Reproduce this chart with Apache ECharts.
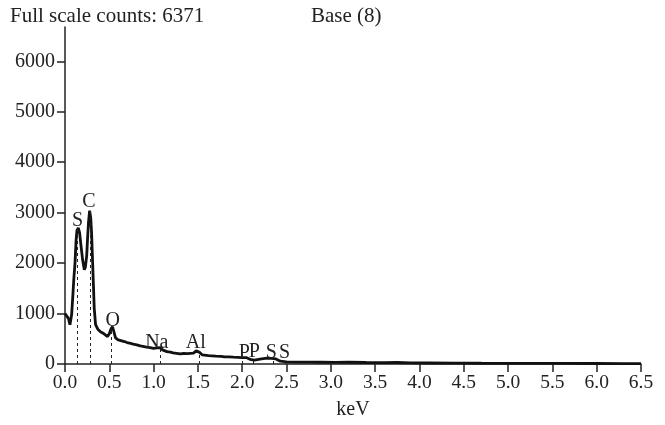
<!DOCTYPE html>
<html>
<head>
<meta charset="utf-8">
<script src="https://cdn.jsdelivr.net/npm/echarts@6/dist/echarts.min.js"></script>
<style>
  html, body { margin: 0; padding: 0; background: #fff; }
  #chart { width: 665px; height: 425px; }
</style>
</head>
<body>
<div id="chart"></div>
<script>
// spectrum (keV, counts)
const energies = [0.00, 0.02, 0.04, 0.056, 0.075, 0.09, 0.10, 0.113, 0.125, 0.135, 0.15, 0.165, 0.18, 0.20, 0.218, 0.23, 0.245, 0.255, 0.265, 0.278, 0.29, 0.30, 0.31, 0.32, 0.33, 0.345, 0.37, 0.40, 0.43, 0.45, 0.48, 0.50, 0.52, 0.535, 0.55, 0.57, 0.60, 0.64, 0.67, 0.70, 0.74, 0.77, 0.81, 0.85, 0.88, 0.92, 0.96, 1.00, 1.04, 1.07, 1.10, 1.15, 1.19, 1.22, 1.26, 1.30, 1.34, 1.38, 1.45, 1.48, 1.50, 1.52, 1.55, 1.62, 1.70, 1.76, 1.80, 1.85, 1.90, 1.95, 2.00, 2.05, 2.10, 2.14, 2.20, 2.28, 2.33, 2.38, 2.43, 2.50, 2.60, 2.75, 2.90, 3.05, 3.2, 3.4, 3.6, 3.75, 3.9, 4.1, 4.4, 4.7, 5.0, 5.3, 5.6, 6.0, 6.3, 6.5];
const counts = [1000, 1000, 900, 780, 980, 1400, 1700, 2000, 2450, 2650, 2700, 2600, 2350, 2050, 1870, 1920, 2150, 2500, 2800, 3040, 2900, 2600, 2100, 1600, 1100, 780, 690, 640, 610, 590, 545, 600, 700, 740, 650, 520, 480, 460, 445, 425, 410, 395, 380, 360, 350, 335, 325, 310, 320, 325, 280, 245, 235, 220, 212, 200, 208, 205, 215, 260, 285, 230, 180, 165, 155, 152, 140, 142, 135, 132, 128, 125, 85, 75, 95, 115, 110, 100, 55, 42, 38, 38, 35, 32, 35, 30, 28, 30, 22, 20, 18, 15, 14, 12, 11, 10, 9, 8];

// element lines
const elements = ['S', 'C', 'O', 'Na', 'Al', 'P', 'P', 'S', 'S'];
const elementKeV = [0.143, 0.282, 0.527, 1.07, 1.51, 2.0, 2.125, 2.35, 2.49];
const elementHeight = [2700, 3040, 720, 325, 260, 128, 80, 105, 45];
const labelShift = [[0, 5], [-1, 3], [1, 5], [-3, 7], [-3, 4], [2, 7], [1, 4], [-2, 6], [-1, 3]];

const yTicks = [0, 1000, 2000, 3000, 4000, 5000, 6000];
const fullScale = 6371;

const chart = echarts.init(document.getElementById('chart'));
const serif = '"Liberation Serif", "DejaVu Serif", serif';

const markData = elements.map((name, i) => [
    { name: name, coord: [elementKeV[i], 0] },
    { name: name, coord: [elementKeV[i], elementHeight[i]], label: { offset: labelShift[i] } }
]);

chart.setOption({
    animation: false,
    backgroundColor: '#fff',
    textStyle: { fontFamily: serif },
    title: [
        { text: 'Full scale counts: ' + fullScale, left: 5, top: 1,
          textStyle: { fontFamily: serif, fontSize: 21, fontWeight: 'normal', color: '#222' } },
        { text: 'Base (8)', left: 306, top: 1,
          textStyle: { fontFamily: serif, fontSize: 21, fontWeight: 'normal', color: '#222' } }
    ],
    grid: { left: 65, right: 24, top: 27, bottom: 53 },
    xAxis: {
        type: 'value', min: 0, max: 6.5, interval: 0.5,
        name: 'keV', nameLocation: 'middle', nameGap: 36,
        nameTextStyle: { fontFamily: serif, fontSize: 20, color: '#222' },
        axisLine: { lineStyle: { color: '#222', width: 1.5 } },
        axisTick: { length: 8, lineStyle: { color: '#222', width: 1.5 } },
        axisLabel: { fontFamily: serif, fontSize: 19.5, color: '#222', margin: 9,
                     formatter: v => v.toFixed(1) },
        splitLine: { show: false }
    },
    yAxis: {
        type: 'value', min: 0, max: 6680,
        axisLine: { show: true, lineStyle: { color: '#222', width: 1.5 } },
        axisTick: { show: true, length: 8, customValues: yTicks, lineStyle: { color: '#222', width: 1.5 } },
        axisLabel: { fontFamily: serif, fontSize: 20, color: '#222', margin: 10, customValues: yTicks,
                     formatter: v => String(v) },
        splitLine: { show: false }
    },
    series: [{
        type: 'line',
        data: energies.map((e, i) => [e, counts[i]]),
        symbol: 'none',
        lineStyle: { color: '#111', width: 2.8 },
        markLine: {
            silent: true,
            symbol: ['none', 'none'],
            lineStyle: { color: '#222', width: 1, type: [3, 3] },
            label: { show: true, position: 'end', distance: 2, formatter: '{b}',
                     fontFamily: serif, fontSize: 20, color: '#222' },
            data: markData
        }
    }]
});
</script>
</body>
</html>
